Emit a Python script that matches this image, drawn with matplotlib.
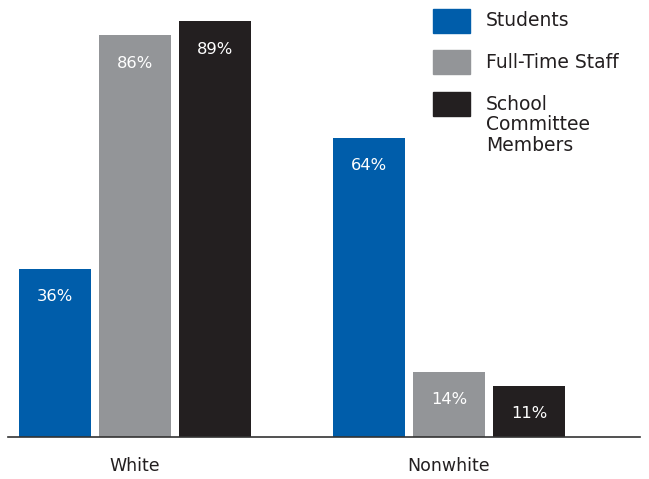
import matplotlib
matplotlib.use("Agg")
import matplotlib.pyplot as plt
from matplotlib.patches import Rectangle
import numpy as np

groups = ["White", "Nonwhite"]
series = ["Students", "Full-Time Staff", "School\nCommittee\nMembers"]
values = {
    "Students": [36, 64],
    "Full-Time Staff": [86, 14],
    "School\nCommittee\nMembers": [89, 11],
}
colors = ["#005DAA", "#939598", "#231F20"]

W, H = 649, 479
fig = plt.figure(figsize=(W / 100, H / 100), dpi=100)
ax = fig.add_axes([8 / W, 42 / H, (640 - 8) / W, 437 / H])

group_centers = np.array([0.0, 3.93])
step = 1.0
width = 0.9
font = "DejaVu Sans"

for i, s in enumerate(series):
    xs = group_centers + (i - 1) * step
    vals = values[s]
    ax.bar(xs, vals, width=width, color=colors[i], zorder=2)
    for x, v in zip(xs, vals):
        ax.text(x, v - 6.0, f"{v}%", ha="center", va="center", color="white",
                fontsize=11.8, family=font, zorder=3)

ax.set_xlim((8 - 134.5) / 80, (640 - 134.5) / 80)
ax.set_ylim(0, 93.5)
for sp in ["top", "right", "left"]:
    ax.spines[sp].set_visible(False)
ax.spines["bottom"].set_color("#333333")
ax.spines["bottom"].set_linewidth(1.2)
ax.set_yticks([])
ax.set_xticks(group_centers)
ax.set_xticklabels(groups, fontsize=12.5, family=font, color="#231F20")
ax.tick_params(axis="x", length=0, pad=14.5)

# legend
box_tops = [9, 50, 92]
for i, s in enumerate(series):
    y0 = box_tops[i]
    fig.patches.append(Rectangle((433 / W, 1 - (y0 + 24) / H), 37 / W, 24 / H,
                                 transform=fig.transFigure, color=colors[i]))
    fig.text(486 / W, 1 - (y0 + 2.5) / H, s, ha="left", va="top", fontsize=13.5,
             family=font, color="#231F20", linespacing=1.11)

fig.savefig("out.png", dpi=100)
